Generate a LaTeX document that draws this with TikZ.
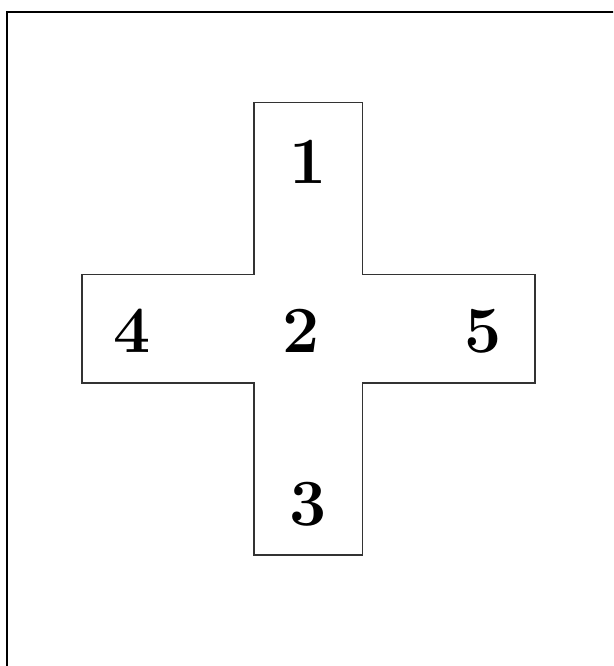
\documentclass[tikz,border=0pt]{standalone}
\begin{document}
\begin{tikzpicture}[x=1pt,y=-1pt,
  crossline/.style={draw=black!80,line width=1.2pt,line join=miter},
  frameline/.style={draw=black,line width=2pt},
  digit/.style={inner sep=0pt,anchor=base,font=\fontsize{66}{70}\selectfont\bfseries}]
\useasboundingbox (0,0) rectangle (613,666);
\begin{scope}
\clip (0,0) rectangle (613,666);
\draw[frameline] (7,12) rectangle (640,700);
\end{scope}
\draw[crossline] (254,102.5) -- (362.5,102.5) -- (362.5,274.5) -- (535,274.5)
  -- (535,383) -- (362.5,383) -- (362.5,555) -- (254,555) -- (254,383)
  -- (82,383) -- (82,274.5) -- (254,274.5) -- cycle;
\node[digit] (n1) at (308.5,183.5) {1};
\node[digit] (n2) at (301.5,352.5) {2};
\node[digit] (n4) at (132.5,352.5) {4};
\node[digit] (n5) at (483.5,352.5) {5};
\node[digit] (n3) at (308.5,525) {3};
\end{tikzpicture}
\end{document}
